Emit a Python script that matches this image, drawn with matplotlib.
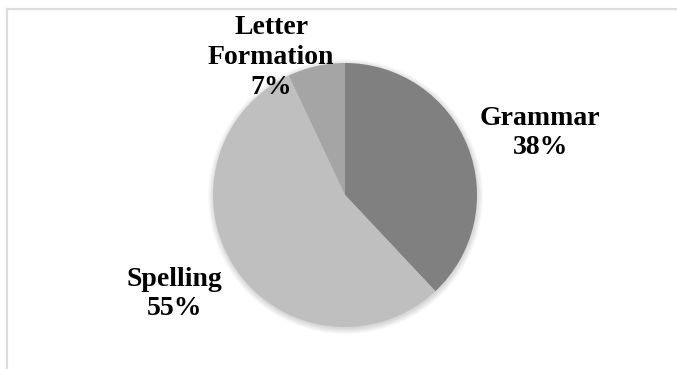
import matplotlib.pyplot as plt
from matplotlib.patches import Circle

categories = ["Grammar", "Spelling", "Letter\nFormation"]
shares = [38, 55, 7]
colors = ["#808080", "#bfbfbf", "#a5a5a5"]

plt.rcParams["font.family"] = ["Liberation Serif", "DejaVu Serif"]

W, H = 677, 369
R = 132.0  # pie radius in pixels
cx, cy = 345, 195  # pie centre, pixels from top-left

fig = plt.figure(figsize=(W / 100, H / 100), dpi=100)
ax = fig.add_axes([0, 0, 1, 1])

# soft shadow under the pie
for i in range(8):
    ax.add_patch(Circle((0.004, -0.012), 1.0 + 0.006 * i, color="black",
                        alpha=0.018, lw=0, zorder=0))

wedges, _ = ax.pie(shares, colors=colors, startangle=90, counterclock=False,
                   radius=1.0, center=(0, 0), frame=True,
                   wedgeprops=dict(linewidth=0, zorder=2))
ax.set_xlim(-cx / R, (W - cx) / R)
ax.set_ylim(-(H - cy) / R, cy / R)
ax.set_aspect("auto")
ax.axis("off")

# label block centres, in pie-radius units
label_pos = [(1.48, 0.47), (-1.29, -0.75), (-0.56, 1.04)]
for name, val, (lx, ly) in zip(categories, shares, label_pos):
    ax.text(lx, ly, f"{name}\n{val}%", ha="center", va="center",
            fontsize=20, fontweight="bold", linespacing=1.25, zorder=5)

# light frame on the top and left edges
fig.add_artist(plt.Line2D([7 / W, 1], [1 - 9 / H, 1 - 9 / H],
                          transform=fig.transFigure, color="#dcdcdc", lw=1.6))
fig.add_artist(plt.Line2D([7 / W, 7 / W], [0, 1 - 9 / H],
                          transform=fig.transFigure, color="#dcdcdc", lw=1.6))

fig.savefig("out.png", dpi=100)
